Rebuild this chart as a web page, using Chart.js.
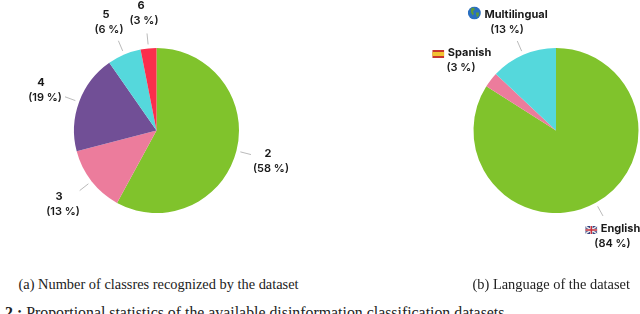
<!DOCTYPE html>
<html>
<head>
<meta charset="utf-8">
<script src="https://cdn.jsdelivr.net/npm/chart.js@4"></script>
<style>
  html, body { margin: 0; padding: 0; background: #fff; }
  body { position: relative; width: 640px; height: 314px; overflow: hidden; }
  canvas { position: absolute; top: 0; }
  #classes-chart { left: 0; }
  #language-chart { left: 450px; }
  .lbl {
    position: absolute; transform: translate(-50%, -50%); white-space: nowrap;
    font: 600 11px/12px Inter, sans-serif; color: #1a1a1a; text-align: center;
  }
  .lbl.name { font-weight: 700; }
  .lbl svg { vertical-align: -2px; margin-right: 4px; }
  .cap {
    position: absolute; white-space: nowrap; color: #222;
    font: 14.4px/16px "Liberation Serif", serif;
  }
  .cap.fig { font-size: 15.85px; }
</style>
</head>
<body>
<canvas id="classes-chart" width="313" height="261"></canvas>
<canvas id="language-chart" width="212" height="261"></canvas>

<div class="lbl name" style="left:268px;top:153px">2</div>
<div class="lbl" style="left:271px;top:168px">(58 %)</div>
<div class="lbl name" style="left:59px;top:196px">3</div>
<div class="lbl" style="left:63px;top:211px">(13 %)</div>
<div class="lbl name" style="left:41px;top:82px">4</div>
<div class="lbl" style="left:45px;top:97px">(19 %)</div>
<div class="lbl name" style="left:106px;top:14px">5</div>
<div class="lbl" style="left:109px;top:29px">(6 %)</div>
<div class="lbl name" style="left:141px;top:5px">6</div>
<div class="lbl" style="left:144px;top:20px">(3 %)</div>

<div class="lbl name" style="left:507.5px;top:13px"><svg width="13" height="13" viewBox="0 0 13 13"><circle cx="6.5" cy="6.5" r="6.5" fill="#2a6fc0"/><path d="M3 2l3-1 1 2-2 2 1 2-1 2-2-3zM8 6l3 0 0 3-2 2z" fill="#5c9a3c"/></svg>Multilingual</div>
<div class="lbl" style="left:507px;top:29px">(13 %)</div>
<div class="lbl name" style="left:461.5px;top:51.5px"><svg width="12" height="8" viewBox="0 0 12 8"><rect width="12" height="8" fill="#c8362c"/><rect y="2" width="12" height="4" fill="#f2c230"/></svg>Spanish</div>
<div class="lbl" style="left:461px;top:67px">(3 %)</div>
<div class="lbl name" style="left:612.5px;top:228px"><svg width="12" height="8" viewBox="0 0 12 8"><rect width="12" height="8" fill="#34407f"/><path d="M0 0l12 8M12 0L0 8" stroke="#eee" stroke-width="1.4"/><path d="M6 0v8M0 4h12" stroke="#eee" stroke-width="2.6"/><path d="M6 0v8M0 4h12" stroke="#c8303c" stroke-width="1.4"/></svg>English</div>
<div class="lbl" style="left:612.5px;top:243px">(84 %)</div>

<div class="cap" style="left:18.5px;top:276px">(a) Number of classres recognized by the dataset</div>
<div class="cap" style="left:472.5px;top:276px">(b) Language of the dataset</div>
<div class="cap fig" style="left:5px;top:305px"><b>2 :</b> Proportional statistics of the available disinformation classification datasets</div>

<script>
// Classes recognised by each dataset
const classLabels = ['2', '3', '4', '5', '6'];
const classValues = [58, 13, 19.4, 6.6, 3.1];
const classColors = ['#80c32c', '#ec7c9c', '#714f96', '#55d8dc', '#fb2e4c'];

// Dataset language
const langLabels = ['English', 'Spanish', 'Multilingual'];
const langValues = [84, 3, 13];
const langColors = ['#80c32c', '#ec7c9c', '#55d8dc'];

// thin grey line between each slice and its label
const leaderLines = {
  id: 'leaderLines',
  afterDatasetsDraw(chart, args, opts) {
    const ctx = chart.ctx;
    const skip = opts.skip || [];
    ctx.save();
    ctx.strokeStyle = '#a8a8a8';
    ctx.lineWidth = 0.8;
    chart.getDatasetMeta(0).data.forEach((arc, i) => {
      if (skip.includes(i)) return;
      const mid = (arc.startAngle + arc.endAngle) / 2;
      ctx.beginPath();
      ctx.moveTo(arc.x + Math.cos(mid) * (arc.outerRadius + 4), arc.y + Math.sin(mid) * (arc.outerRadius + 4));
      ctx.lineTo(arc.x + Math.cos(mid) * (arc.outerRadius + 15), arc.y + Math.sin(mid) * (arc.outerRadius + 15));
      ctx.stroke();
    });
    ctx.restore();
  }
};

function drawPie(id, labels, values, colors, padding, skip) {
  return new Chart(document.getElementById(id), {
    type: 'pie',
    data: {
      labels,
      datasets: [{ data: values, backgroundColor: colors, borderWidth: 0 }]
    },
    options: {
      responsive: false,
      animation: false,
      layout: { padding },
      plugins: {
        legend: { display: false },
        tooltip: { enabled: false },
        leaderLines: { skip }
      }
    },
    plugins: [leaderLines]
  });
}

drawPie('classes-chart', classLabels, classValues, classColors, { top: 48, bottom: 48 }, []);
drawPie('language-chart', langLabels, langValues, langColors, { top: 48, bottom: 48 }, [1]);
</script>
</body>
</html>
